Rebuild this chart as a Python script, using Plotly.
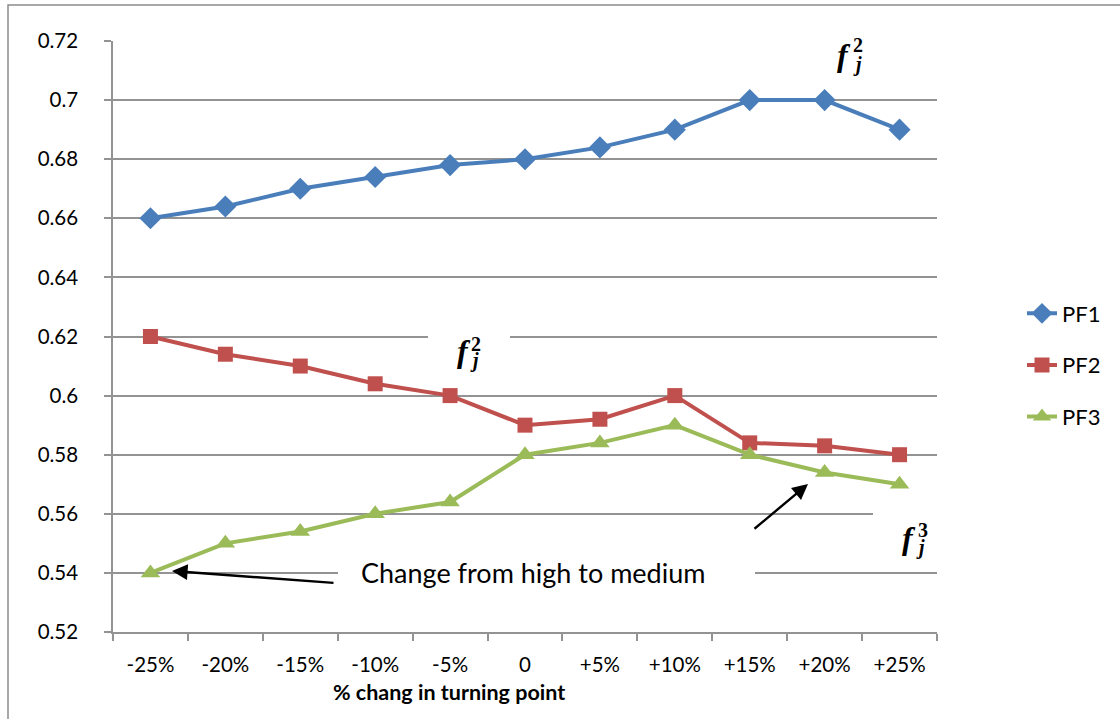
import plotly.graph_objects as go

categories = ["-25%", "-20%", "-15%", "-10%", "-5%", "0", "+5%", "+10%", "+15%", "+20%", "+25%"]
pf1 = [0.66, 0.664, 0.67, 0.674, 0.678, 0.68, 0.684, 0.69, 0.70, 0.70, 0.69]
pf2 = [0.62, 0.614, 0.61, 0.604, 0.60, 0.59, 0.592, 0.60, 0.584, 0.583, 0.58]
pf3 = [0.54, 0.55, 0.554, 0.56, 0.564, 0.58, 0.584, 0.59, 0.58, 0.574, 0.57]
series_names = ["PF1", "PF2", "PF3"]
x_title = "% chang in turning point"
note_text = "Change from high to medium"

W, H = 1120, 719
L, R, T, B = 113, 937, 41, 632


def px(x):
    return (x - L) / (R - L)


def py(y):
    return (B - y) / (B - T)


FONT = "Lato"
GRID = "#939393"

fig = go.Figure()
styles = [
    ("#4A7EBB", "diamond", 17),
    ("#C0504D", "square", 15),
    ("#9BBB59", "triangle-up", 17),
]
for i, (name, vals) in enumerate(zip(series_names, [pf1, pf2, pf3])):
    c, sym, sz = styles[i]
    fig.add_trace(go.Scatter(
        x=categories, y=vals, name=name, mode="lines+markers",
        line=dict(color=c, width=4),
        marker=dict(symbol=sym, size=sz, color=c),
        legendgroup=name,
    ))

shapes = []
# white boxes that interrupt gridlines behind text
for (x0, y0, x1, y1) in [(808, 28, 892, 78), (428, 322, 510, 372),
                         (338, 556, 755, 590), (873, 499, 950, 562)]:
    shapes.append(dict(type="rect", xref="paper", yref="paper",
                       x0=px(x0), x1=px(x1), y0=py(y1), y1=py(y0),
                       fillcolor="white", line=dict(width=0), layer="above"))
# outer border
shapes.append(dict(type="rect", xref="paper", yref="paper",
                   x0=px(8), x1=px(1130), y0=py(730), y1=py(5),
                   line=dict(color="#8c8c8c", width=1.5), fillcolor="rgba(0,0,0,0)",
                   layer="below"))

ann = []


def add_text(x, y, text, size, family=FONT):
    ann.append(dict(x=px(x), y=py(y), xref="paper", yref="paper", showarrow=False,
                    xanchor="center", yanchor="middle", text=text,
                    font=dict(family=family, size=size, color="black")))


def fj(xf, yf, xs, ys, xsub, ysub, sup):
    sf = "Liberation Serif"
    add_text(xf, yf, "<b><i>f</i></b>", 32, sf)
    add_text(xs, ys, "<b>%s</b>" % sup, 20, sf)
    add_text(xsub, ysub, "<b><i>j</i></b>", 20, sf)


fj(844, 55, 858, 45, 857, 64, "2")
fj(464, 351, 476, 344, 474, 360, "2")
fj(909, 538, 923, 530, 920, 547, "3")

add_text(533, 572, note_text, 27)
add_text(449, 692, "<b>%s</b>" % x_title, 21.5)
# arrows
ann.append(dict(x=px(172), y=py(571), xref="paper", yref="paper", showarrow=True,
                ax=163, ay=12, text="", arrowhead=2, arrowsize=1.3, arrowwidth=2.4,
                arrowcolor="black"))
ann.append(dict(x=px(808), y=py(484), xref="paper", yref="paper", showarrow=True,
                ax=-55, ay=46, text="", arrowhead=2, arrowsize=1.3, arrowwidth=2.4,
                arrowcolor="black"))

fig.update_layout(
    width=W, height=H,
    margin=dict(l=L, r=W - R, t=T, b=H - B),
    plot_bgcolor="white", paper_bgcolor="white",
    font=dict(family=FONT, size=20.5, color="black"),
    showlegend=True,
    legend=dict(x=px(1022), y=py(365), xanchor="left", yanchor="middle",
                font=dict(family=FONT, size=22), tracegroupgap=20,
                traceorder="grouped", bgcolor="rgba(0,0,0,0)"),
    shapes=shapes, annotations=ann,
)
fig.update_xaxes(type="category", range=[-0.5, 10.5], showgrid=False,
                 showline=True, linecolor=GRID, linewidth=1.5,
                 ticks="outside", tickson="boundaries", ticklen=7, tickcolor=GRID,
                 tickwidth=1.5, tickfont=dict(size=20.5), ticklabelstandoff=14)
fig.update_yaxes(range=[0.52, 0.72], dtick=0.02, tick0=0.52, showgrid=True,
                 gridcolor=GRID, gridwidth=1.5, showline=True, linecolor=GRID,
                 linewidth=1.5, ticks="outside", ticklen=7, tickcolor=GRID,
                 tickwidth=1.5, tickfont=dict(size=20.5), zeroline=False,
                 ticklabelstandoff=22)

fig.write_html("out.html", config={"displayModeBar": False},
               post_script="document.body.style.margin='0px';")
